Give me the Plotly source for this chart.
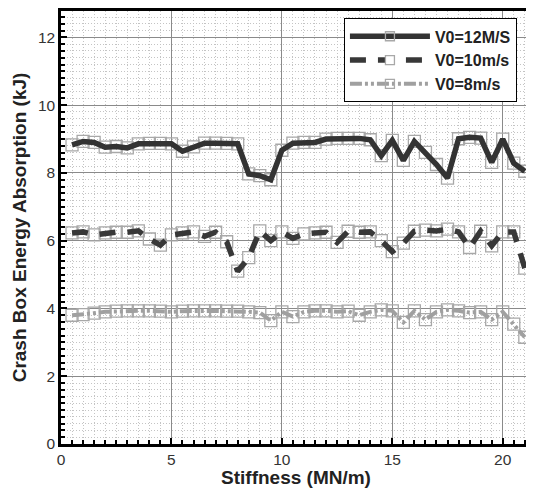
import plotly.graph_objects as go

stiffness = [0.5 * k for k in range(1, 43)]

v12 = [8.83, 8.93, 8.90, 8.76, 8.78, 8.74, 8.86, 8.87, 8.87, 8.86,
       8.64, 8.77, 8.88, 8.88, 8.87, 8.86, 7.97, 7.92, 7.80, 8.67,
       8.88, 8.90, 8.90, 9.00, 9.02, 9.02, 9.02, 8.98, 8.51, 8.96,
       8.37, 8.93, 8.61, 8.25, 7.85, 9.01, 9.05, 9.03, 8.31, 9.00,
       8.29, 8.05]

v10 = [6.23, 6.26, 6.17, 6.23, 6.25, 6.25, 6.29, 6.05, 5.87, 6.17,
       6.23, 6.26, 6.13, 6.25, 5.97, 5.10, 5.50, 6.29, 6.00, 6.26,
       6.07, 6.20, 6.23, 6.25, 5.95, 6.28, 6.25, 6.26, 6.00, 5.68,
       5.93, 6.28, 6.31, 6.29, 6.34, 6.26, 5.80, 6.28, 5.85, 6.26,
       6.26, 5.19]

v8 = [3.80, 3.82, 3.86, 3.90, 3.92, 3.93, 3.93, 3.93, 3.92, 3.90,
      3.92, 3.93, 3.93, 3.93, 3.92, 3.92, 3.90, 3.88, 3.64, 3.90,
      3.76, 3.90, 3.93, 3.93, 3.90, 3.92, 3.80, 3.90, 3.96, 3.93,
      3.59, 3.93, 3.67, 3.90, 3.96, 3.93, 3.88, 3.90, 3.67, 3.90,
      3.54, 3.15]

names = ["V0=12M/S", "V0=10m/s", "V0=8m/s"]
x_ticks = [0, 5, 10, 15, 20]
y_ticks = [0, 2, 4, 6, 8, 10, 12]

styles = [
    dict(color="#333333", width=5.5, dash="solid", mfill="rgba(0,0,0,0)"),
    dict(color="#383838", width=5.5, dash="16px,12px", mfill="white"),
    dict(color="#a0a0a0", width=4, dash="12px,3px,3px,3px,3px,3px", mfill="rgba(0,0,0,0)"),
]
series = [v12, v10, v8]
mk_color = "#a8a8a8"

fig = go.Figure()
for ys, st in zip(series, styles):
    fig.add_trace(go.Scatter(
        x=stiffness, y=ys, mode="markers", showlegend=False, hoverinfo="skip",
        marker=dict(symbol="square-open", size=12, color=mk_color,
                    line=dict(color=mk_color, width=1.3))))
for ys, st in zip(series, styles):
    fig.add_trace(go.Scatter(
        x=stiffness, y=ys, mode="lines", showlegend=False,
        line=dict(color=st["color"], width=st["width"], dash=st["dash"])))
for name, st in zip(names, styles):
    fig.add_trace(go.Scatter(
        x=[None], y=[None], mode="lines+markers", name="<b>" + name + "</b>",
        line=dict(color=st["color"], width=st["width"], dash=st["dash"]),
        marker=dict(symbol="square", size=9, color=st["mfill"],
                    line=dict(color=mk_color, width=1.3))))

font = "Liberation Sans, Arial, sans-serif"
axis_common = dict(
    showline=True, linecolor="black", linewidth=2.5, mirror=True,
    ticks="inside", tickcolor="black", tickwidth=2, ticklen=6,
    showgrid=True, gridcolor="#8a8a8a", gridwidth=1,
    zeroline=False, automargin=False,
    tickfont=dict(family=font, size=15.5, color="#333"),
)
minor_common = dict(ticks="inside", ticklen=4, tickwidth=1.5, tickcolor="black",
                    showgrid=True, gridcolor="#c4c4c4", griddash="1px,2px", gridwidth=1)
fig.update_xaxes(
    **axis_common, range=[0, 21.28], tickvals=x_ticks,
    minor=dict(dtick=0.5, tick0=0, **minor_common),
    title=dict(text="<b>Stiffness (MN/m)</b>", font=dict(family=font, size=19, color="#222"), standoff=4),
)
fig.update_yaxes(
    **axis_common, range=[0, 12.78], tickvals=y_ticks,
    minor=dict(dtick=0.2, tick0=0, **minor_common),
    title=dict(text="<b>Crash Box Energy Absorption (kJ)</b>", font=dict(family=font, size=19, color="#222"), standoff=7),
)
# page body has an 8px default margin, so the figure is sized to the visible area
fig.update_layout(
    width=526, height=480,
    margin=dict(l=53, r=3, t=3, b=44),
    paper_bgcolor="white", plot_bgcolor="white",
    legend=dict(x=0.602, y=0.983, xanchor="left", yanchor="top",
                bgcolor="white", bordercolor="black", borderwidth=1,
                font=dict(family=font, size=16, color="#222"),
                itemwidth=80, tracegroupgap=0),
    showlegend=True,
)

fig.write_html("out.html")
